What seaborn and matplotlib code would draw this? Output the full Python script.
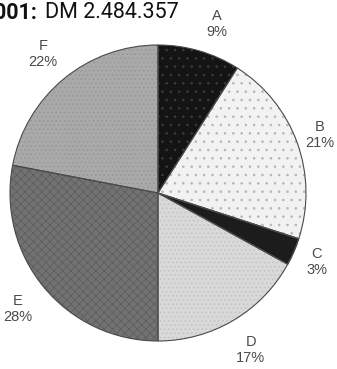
import matplotlib
matplotlib.use("Agg")
import numpy as np
import matplotlib.pyplot as plt
import seaborn as sns

sns.set_theme(style="white")
plt.rcParams['font.family'] = ['Liberation Sans', 'DejaVu Sans']
plt.rcParams['hatch.linewidth'] = 0.6

# slices, clockwise from 12 o'clock
segments = ["A", "B", "C", "D", "E", "F"]
shares = [9, 21, 3, 17, 28, 22]
shades = ["#141414", "#f2f2f2", "#1c1c1c", "#d9d9d9", "#727272", "#a9a9a9"]
textures = ["..", "..", "", "....", "xxxx", "...."]
hatch_colors = ["#3c3c3c", "#b5b5b5", "#1c1c1c", "#c2c2c2", "#5e5e5e", "#979797"]
label_dist = [1.21, 1.16, 1.17, 1.23, 1.23, 1.22]
title_bold = "001:"
title_rest = "DM 2.484.357"

fig = plt.figure(figsize=(3.37, 3.69), dpi=100)
ax = fig.add_axes([10 / 337, 28 / 369, 296 / 337, 296 / 369])

labels = [f"{s}\n{v}%" for s, v in zip(segments, shares)]
wedges, texts = ax.pie(shares, labels=labels, colors=shades, startangle=90,
                       counterclock=False, labeldistance=1.2,
                       wedgeprops=dict(linewidth=0.8, edgecolor="#555555"),
                       textprops=dict(fontsize=10.5, color="#4a4a4a",
                                      linespacing=1.2))
for w, h, hc in zip(wedges, textures, hatch_colors):
    if h:
        w.set_hatch(h)
        w.set_edgecolor(hc)
        w.set_linewidth(0.0)
for w, t, d in zip(wedges, texts, label_dist):
    # label sits a bit further round for the first small slice, as in the original
    mid = np.deg2rad((w.theta1 + w.theta2) / 2 - (3 if t is texts[0] else 0))
    t.set_position((d * np.cos(mid), d * np.sin(mid)))
    t.set_ha("center")
    t.set_va("center")
# outline around the whole pie
ax.pie(shares, radius=1, startangle=90, counterclock=False,
       colors=["none"] * len(shares),
       wedgeprops=dict(linewidth=0.8, edgecolor="#4a4a4a", fill=False))
ax.set_xlim(-1, 1)
ax.set_ylim(-1, 1)
ax.set_aspect("equal")
ax.axis("off")

fig.text(37 / 337, 0.966, title_bold, fontsize=15.5, fontweight="bold",
         family=['Roboto', 'DejaVu Sans'], va="center", ha="right", color="#111111")
fig.text(45 / 337, 0.966, title_rest, fontsize=15.5, family=['Roboto', 'DejaVu Sans'],
         va="center", ha="left", color="#111111")

fig.savefig("out.png", dpi=100)
